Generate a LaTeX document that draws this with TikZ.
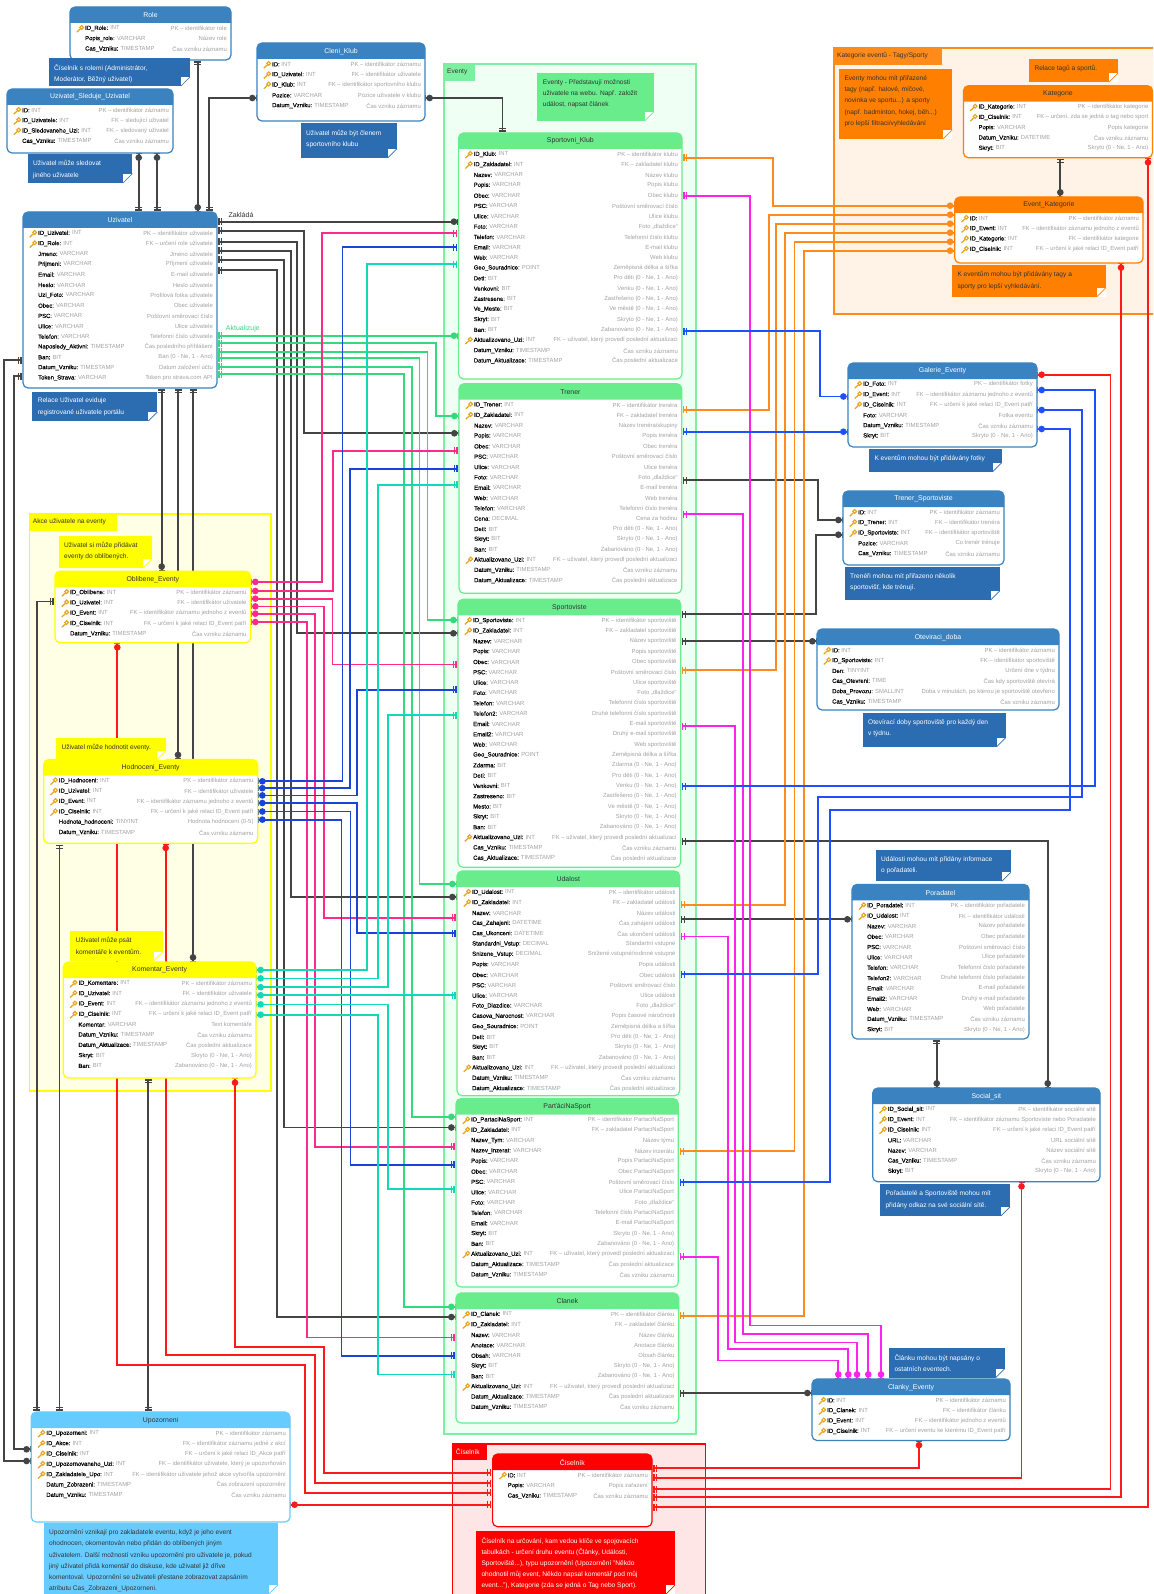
\documentclass[tikz,border=0pt]{standalone}
\usepackage{fontspec}
\usetikzlibrary{arrows.meta}
\setmainfont{Liberation Sans}
\newfontfamily\nmf{Liberation Sans}[FakeBold=0.4]
\definecolor{hB}{HTML}{3A82C0}
\definecolor{nB}{HTML}{2C6CB0}
\definecolor{hG}{HTML}{68EC8C}
\definecolor{gG}{HTML}{7CF0A0}
\definecolor{fG}{HTML}{F0FFF4}
\definecolor{hY}{HTML}{FFFF00}
\definecolor{fY}{HTML}{FFFFE6}
\definecolor{hO}{HTML}{FF8000}
\definecolor{gO}{HTML}{FF8C1A}
\definecolor{fO}{HTML}{FFF2E6}
\definecolor{hL}{HTML}{66CCFF}
\definecolor{hR}{HTML}{FF0000}
\definecolor{fR}{HTML}{FFE6E6}
\definecolor{tD}{HTML}{333333}
\definecolor{gy}{HTML}{A2A2A2}
\definecolor{kY}{HTML}{E8A317}
\definecolor{cD}{HTML}{444444}
\definecolor{cP}{HTML}{FF2A8A}
\definecolor{cB}{HTML}{1A44D8}
\definecolor{cC}{HTML}{10D8B8}
\definecolor{cG}{HTML}{33D97A}
\definecolor{cO}{HTML}{FF8A1E}
\definecolor{cM}{HTML}{FF22EE}
\definecolor{cU}{HTML}{1F50FF}
\definecolor{cR}{HTML}{FF1A1A}
\tikzset{
 oneT/.tip={Bar[width=7pt,line width=1.2pt,sep=1.6pt]Bar[width=7pt,line width=1.2pt,sep=1.4pt]},
 manyT/.tip={Circle[length=6.5pt,width=6.5pt,sep=0.2pt]Bar[width=6pt,line width=1.2pt,sep=0pt]},
 cn/.style={arrows={oneT-manyT},line width=1.8pt,line join=miter},
 oo/.style={arrows={oneT-oneT},line width=1.8pt,line join=miter},
 tbl/.style={rectangle,fill=white,rounded corners=5pt,line width=1.2pt,inner sep=0pt,outer sep=0pt},
 ttl/.style={font=\fontsize{6.9}{8}\selectfont,inner sep=0pt},
 rn/.style={font=\fontsize{5.9}{7}\selectfont,inner sep=0pt,anchor=west},
 rc/.style={font=\fontsize{5.9}{7}\selectfont,inner sep=0pt,anchor=east,text=gy},
 nbox/.style={rectangle,inner sep=0pt,outer sep=0pt,anchor=north west},
 ntxt/.style={font=\fontsize{6.6}{11.2}\selectfont,inner sep=0pt,align=left,anchor=north west},
 grp/.style={rectangle,inner sep=0pt,outer sep=0pt,anchor=north west,line width=1.5pt},
 glab/.style={font=\fontsize{6.6}{8}\selectfont,inner sep=0pt,anchor=west},
 lab/.style={font=\fontsize{7}{8}\selectfont,inner sep=0pt,anchor=west},
}
\newcount\rowcnt
\newcommand\Tbl[8]{%
 \pgfmathsetmacro\tbW{#6-#4}\pgfmathsetmacro\tbH{#7-#5}%
 \node[tbl,draw=#2,minimum width=\tbW pt,minimum height=\tbH pt,anchor=north west] (#1) at (#4,#5) {};
 \fill[#2] (#4,{#5+16}) [rounded corners=5pt] -- (#4,#5) -- (#6,#5) [sharp corners] -- (#6,{#5+16}) -- cycle;
 \node[ttl,text=#3] (#1t) at ({(#4+#6)/2},{#5+8.2}) {#8};
 \def\tbId{#1}\rowcnt=0
 \pgfmathsetmacro\tbN{#4+15}\pgfmathsetmacro\tbR{#6-4}\pgfmathsetmacro\tbY{#5+21.3}%
}
\newcommand\RF[3]{%
 \advance\rowcnt by 1
 \node[rn] (\tbId n\the\rowcnt) at (\tbN,\tbY) {{\nmf #1:} \textcolor{gy}{#2}};
 \node[rc] (\tbId c\the\rowcnt) at (\tbR,\tbY) {#3};
 \pgfmathsetmacro\tbY{\tbY+10.33}%
}
\newcommand\RK[3]{%
 \draw[kY,line width=1.1pt] ({\tbN-3.3},{\tbY-0.9}) circle (1.9pt);
 \draw[kY,line width=1.2pt] ({\tbN-4.6},{\tbY+0.5}) -- ({\tbN-8.2},{\tbY+3.8});
 \RF{#1}{#2}{#3}%
}
\newcommand\Nt[8]{%
 \pgfmathsetmacro\tbW{#6-#4}\pgfmathsetmacro\tbH{#7-#5}%
 \node[nbox,fill=#2,minimum width=\tbW pt,minimum height=\tbH pt] (#1) at (#4,#5) {};
 \fill[white] ({#6-9},{#7-9}) rectangle (#6,#7);
 \draw[#2,line width=.7pt] ({#6-9},#7) -- (#6,{#7-9});
 \node[ntxt,text=#3] (#1x) at ({#4+5.3},{#5+6.4}) {#8};
}
\newcommand\Gr[9]{%
 \pgfmathsetmacro\tbW{#6-#4}\pgfmathsetmacro\tbH{#7-#5}%
 \node[grp,draw=#2,fill=#3,minimum width=\tbW pt,minimum height=\tbH pt] (#1) at (#4,#5) {};
 \fill[#2] (#4,#5) rectangle #8;
 \node[glab,text=#9] (#1l) at ({#4+3},{#5+8}) 
}
\newcommand\Anc[5]{\pgfmathsetmacro\tbW{#4-#2}\pgfmathsetmacro\tbH{#5-#3}%
 \node[rectangle,inner sep=0pt,outer sep=0pt,minimum width=\tbW pt,minimum height=\tbH pt,anchor=north west] (#1) at (#2,#3) {};}
\catcode`\_=12
\begin{document}
\begin{tikzpicture}[x=1pt,y=-1pt]
\useasboundingbox (0,0) rectangle (1153,1594);
\clip (0,0) rectangle (1153,1594);
\fill[white] (0,0) rectangle (1153,1594);
% groups
\Gr{gE}{gG}{fG}{444}{64}{695.8}{1434}{(475,80.7)}{tD} {Eventy};
\Gr{gA}{hY}{fY}{29.7}{514}{271}{1091}{(116.7,530.6)}{tD} {Akce uživatele na eventy};
\Gr{gK}{gO}{fO}{834}{48}{1165}{314}{(942,65)}{tD} {Kategorie eventů - Tagy/Sporty};
\Gr{gC}{hR}{fR}{452.7}{1444}{705.7}{1610}{(486.7,1460)}{white} {Číselník};
% connector ports
\Anc{ro}{70}{7}{231}{60}
\Anc{ck}{257}{43}{425}{121}
\Anc{su}{7}{89}{173}{153}
\Anc{uz}{23}{212}{217}{388}
\Anc{sk}{458.6}{133}{682}{379}
\Anc{tr}{459}{383.7}{681.7}{593.3}
\Anc{sp}{458}{599.3}{680.7}{867.3}
\Anc{ud}{457}{871}{679.7}{1095.7}
\Anc{pa}{456}{1098.6}{678.3}{1287}
\Anc{cl}{456}{1293}{678.7}{1423}
\Anc{ob}{55}{571.2}{250.7}{642.7}
\Anc{ho}{43.7}{759.5}{257.7}{843.3}
\Anc{ko}{63.3}{962}{256}{1078}
\Anc{up}{31.2}{1412}{290}{1522}
\Anc{ci}{492.6}{1454}{652}{1526.7}
\Anc{ka}{963.4}{85.7}{1152.5}{157.7}
\Anc{ek}{954.7}{197}{1143}{263}
\Anc{ga}{848}{363}{1037}{447}
\Anc{ts}{843}{491}{1004}{565}
\Anc{ot}{817}{629}{1059}{710}
\Anc{po}{852}{884.4}{1029}{1039}
\Anc{so}{872.7}{1088}{1100}{1181.7}
\Anc{ce}{812}{1379}{1010}{1440.5}
% connectors: dark
\begin{scope}[cD]
\draw[cn] (ro.south-|197.7,0) -- (uz.north-|197.7,0);
\draw[cn] (uz.north-|209,0) |- (ck.west|-0,98);
\draw[cn] (sk.north-|502.4,0) |- (ck.east|-0,98);
\draw[cn] (uz.north-|138.7,0) -- (su.south-|138.7,0);
\draw[cn] (uz.north-|157,0) -- (su.south-|157,0);
\draw[cn] (uz.south-|161.7,0) -- (ob.north-|161.7,0);
\draw[cn] (uz.south-|178,0) -- (ho.north-|178,0);
\draw[cn] (uz.south-|193,0) -- (ko.north-|193,0);
\draw[cn] (uz.east|-0,221.7) -- (sk.west|-0,221.7);
\draw[cn] (uz.east|-0,230.7) -| (304,433.3) -- (tr.west|-0,433.3);
\draw[cn] (uz.east|-0,241.7) -| (297.3,633.3) -- (sp.west|-0,633.3);
\draw[cn] (uz.east|-0,251) -| (290.7,897) -- (ud.west|-0,897);
\draw[cn] (uz.east|-0,259.7) -| (284,1127.5) -- (pa.west|-0,1127.5);
\draw[cn] (uz.east|-0,270.3) -| (277.3,1317) -- (cl.west|-0,1317);
\draw[cn] (uz.west|-0,360.3) -| (4,1461) -- (up.west|-0,1461);
\draw[cn] (uz.west|-0,376) -| (14.3,1449.3) -- (up.west|-0,1449.3);
\draw[oo] (ob.west|-0,601.4) -| (up.north-|36.7,0);
\draw[oo] (ho.south-|59.5,0) -- (up.north-|59.5,0);
\draw[oo] (ko.south-|148,0) -- (up.north-|148,0);
\draw[cn] (tr.east|-0,480) -| (817.7,520) -- (ts.west|-0,520);
\draw[cn] (sp.east|-0,614.3) -| (815.7,534.7) -- (ts.west|-0,534.7);
\draw[cn] (sp.east|-0,641.3) -- (ot.west|-0,641.3);
\draw[cn] (sp.east|-0,841.3) -| (so.north-|1047.7,0);
\draw[cn] (ud.east|-0,919.3) -- (po.west|-0,919.3);
\draw[cn] (po.south-|936.7,0) -- (so.north-|936.7,0);
\draw[cn] (cl.east|-0,1393) -- (ce.west|-0,1393);
\draw[cn] (ka.south-|1060.3,0) -- (ek.north-|1060.3,0);
\end{scope}
% green
\begin{scope}[cG]
\draw[cn] (uz.east|-0,335.7) -- (sk.west|-0,335.7);
\draw[cn] (uz.east|-0,343.3) -| (436,416) -- (tr.west|-0,416);
\draw[cn] (uz.east|-0,351.7) -| (427.5,620) -- (sp.west|-0,620);
\draw[cn] (uz.east|-0,358.3) -| (419.5,884) -- (ud.west|-0,884);
\draw[cn] (uz.east|-0,366.7) -| (412,1116.8) -- (pa.west|-0,1116.8);
\draw[cn] (uz.east|-0,374.3) -| (404.3,1306.8) -- (cl.west|-0,1306.8);
\end{scope}
% pink
\begin{scope}[cP]
\draw[cn] (sk.west|-0,233.3) -| (322.3,581.9) -- (ob.east|-0,581.9);
\draw[cn] (tr.west|-0,450.7) -| (333.3,591) -- (ob.east|-0,591);
\draw[cn] (sp.west|-0,664.5) -| (332.5,598.7) -- (ob.east|-0,598.7);
\draw[cn] (ud.west|-0,917.9) -| (324,606.4) -- (ob.east|-0,606.4);
\draw[cn] (pa.west|-0,1146.8) -| (315,613.7) -- (ob.east|-0,613.7);
\draw[cn] (cl.west|-0,1337.5) -| (307.3,622) -- (ob.east|-0,622);
\end{scope}
% blue
\begin{scope}[cB]
\draw[cn] (sk.west|-0,247.3) -| (342.5,781.3) -- (ho.east|-0,781.3);
\draw[cn] (tr.west|-0,468.7) -| (350,788.2) -- (ho.east|-0,788.2);
\draw[cn] (sp.west|-0,689.6) -| (357.3,795.4) -- (ho.east|-0,795.4);
\draw[cn] (ud.west|-0,933) -| (357.3,803) -- (ho.east|-0,803);
\draw[cn] (pa.west|-0,1164.6) -| (350.5,811.5) -- (ho.east|-0,811.5);
\draw[cn] (cl.west|-0,1355.7) -| (341.5,819.6) -- (ho.east|-0,819.6);
\end{scope}
% cyan
\begin{scope}[cC]
\draw[cn] (sk.west|-0,264.3) -| (367,970) -- (ko.east|-0,970);
\draw[cn] (tr.west|-0,484.7) -| (377.7,978.4) -- (ko.east|-0,978.4);
\draw[cn] (sp.west|-0,715) -| (388.3,987.2) -- (ko.east|-0,987.2);
\draw[cn] (ud.west|-0,995.2) -- (ko.east|-0,995.2);
\draw[cn] (pa.west|-0,1189.3) -| (388.3,1004.4) -- (ko.east|-0,1004.4);
\draw[cn] (cl.west|-0,1374.4) -| (378.2,1014.7) -- (ko.east|-0,1014.7);
\end{scope}
% orange
\begin{scope}[cO]
\draw[cn] (sk.east|-0,158) -| (772.6,205.7) -- (ek.west|-0,205.7);
\draw[cn] (tr.east|-0,409.7) -| (769.3,214.7) -- (ek.west|-0,214.7);
\draw[cn] (sp.east|-0,670.3) -| (776,223.7) -- (ek.west|-0,223.7);
\draw[cn] (ud.east|-0,904.6) -| (785,232.7) -- (ek.west|-0,232.7);
\draw[cn] (pa.east|-0,1151) -| (794.5,241.7) -- (ek.west|-0,241.7);
\draw[cn] (cl.east|-0,1315.7) -| (804.3,250.7) -- (ek.west|-0,250.7);
\end{scope}
% magenta
\begin{scope}[cM]
\draw[cn] (sk.east|-0,196) -| (750,1325.4) -| (ce.north-|881,0);
\draw[cn] (tr.east|-0,514.3) -| (742.7,1333.6) -| (ce.north-|868.3,0);
\draw[cn] (sp.east|-0,726.3) -| (735,1342.5) -| (ce.north-|857,0);
\draw[cn] (ud.east|-0,936.4) -| (727.7,1348.8) -| (ce.north-|848.3,0);
\draw[cn] (pa.east|-0,1256.8) -| (718.3,1360.4) -| (ce.north-|838.3,0);
\end{scope}
% bright blue
\begin{scope}[cU]
\draw[cn] (sk.east|-0,331.3) -| (820,396.5) -- (ga.west|-0,396.5);
\draw[cn] (tr.east|-0,431.7) -- (ga.west|-0,431.7);
\draw[cn] (sp.east|-0,786) -| (1095,390) -- (ga.east|-0,390);
\draw[cn] (ud.east|-0,974) -| (817.7,797) -| (1082,410) -- (ga.east|-0,410);
\draw[cn] (pa.east|-0,1182) -| (830.3,810) -| (1070,429) -- (ga.east|-0,429);
\end{scope}
% red
\begin{scope}[cR]
\draw[cn] (ci.east|-0,1468.3) -| (ce.south-|919,0);
\draw[cn] (ci.east|-0,1477.7) -| (so.south-|1021.5,0);
\draw[cn] (ci.east|-0,1489) -| (1110.5,374.7) -- (ga.east|-0,374.7);
\draw[cn] (ci.east|-0,1497) -| (ek.south-|1121,0);
\draw[cn] (ci.east|-0,1507) -| (ka.south-|1148,0);
\draw[cn] (ci.west|-0,1472.7) -| (324.3,1347.3) -| (ko.south-|235,0);
\draw[cn] (ci.west|-0,1483) -| (315,1354.7) -| (ho.south-|165.7,0);
\draw[cn] (ci.west|-0,1492.7) -| (305,1364.7) -| (ob.south-|117.3,0);
\draw[cn] (ci.west|-0,1504.7) -- (up.east|-0,1504.7);
\end{scope}
\node[lab,text=tD] (lZak) at (228.3,215) {Zakládá};
\node[lab,text=cG] (lAkt) at (225.7,328.7) {Aktualizuje};
% tables
\Tbl{tro}{hB}{white}{70}{7}{231}{60}{Role}
\RK{ID_Role}{INT}{PK – identifikátor role}
\RF{Popis_role}{VARCHAR}{Název role}
\RF{Cas_Vzniku}{TIMESTAMP}{Čas vzniku záznamu}
\Tbl{tck}{hB}{white}{257}{43}{425}{121}{Cleni_Klub}
\RK{ID}{INT}{PK – identifikátor záznamu}
\RK{ID_Uzivatel}{INT}{FK – identifikátor uživatele}
\RK{ID_Klub}{INT}{FK – identifikátor sportovního klubu}
\RF{Pozice}{VARCHAR}{Pozice uživatele v klubu}
\RF{Datum_Vzniku}{TIMESTAMP}{Čas vzniku záznamu}
\Tbl{tsu}{hB}{white}{7}{89}{173}{153}{Uzivatel_Sleduje_Uzivatel}
\RK{ID}{INT}{PK – identifikátor záznamu}
\RK{ID_Uzivatele}{INT}{FK – sledující uživatel}
\RK{ID_Sledovaneho_Uzi}{INT}{FK – sledovaný uživatel}
\RF{Cas_Vzniku}{TIMESTAMP}{Čas vzniku záznamu}
\Tbl{tuz}{hB}{white}{23}{212}{217}{388}{Uzivatel}
\RK{ID_Uzivatel}{INT}{PK – identifikátor uživatele}
\RK{ID_Role}{INT}{FK – určení role uživatele}
\RF{Jmeno}{VARCHAR}{Jméno uživatele}
\RF{Prijmeni}{VARCHAR}{Příjmení uživatele}
\RF{Email}{VARCHAR}{E-mail uživatele}
\RF{Heslo}{VARCHAR}{Heslo uživatele}
\RF{Uzi_Foto}{VARCHAR}{Profilová fotka uživatele}
\RF{Obec}{VARCHAR}{Obec uživatele}
\RF{PSC}{VARCHAR}{Poštovní směrovací číslo}
\RF{Ulice}{VARCHAR}{Ulice uživatele}
\RF{Telefon}{VARCHAR}{Telefonní číslo uživatele}
\RF{Naposledy_Aktivni}{TIMESTAMP}{Čas posledního přihlášení}
\RF{Ban}{BIT}{Ban (0 - Ne, 1 - Ano)}
\RF{Datum_Vzniku}{TIMESTAMP}{Datum založení účtu}
\RF{Token_Strava}{VARCHAR}{Token pro strava.com API}
\Tbl{tsk}{hG}{tD}{458.6}{133}{682}{379}{Sportovni_Klub}
\RK{ID_Klub}{INT}{PK – identifikátor klubu}
\RK{ID_Zakladatel}{INT}{FK – zakladatel klubu}
\RF{Nazev}{VARCHAR}{Název klubu}
\RF{Popis}{VARCHAR}{Popis klubu}
\RF{Obec}{VARCHAR}{Obec klubu}
\RF{PSC}{VARCHAR}{Poštovní směrovací číslo}
\RF{Ulice}{VARCHAR}{Ulice klubu}
\RF{Foto}{VARCHAR}{Foto „dlaždice“}
\RF{Telefon}{VARCHAR}{Telefonní číslo klubu}
\RF{Email}{VARCHAR}{E-mail klubu}
\RF{Web}{VARCHAR}{Web klubu}
\RF{Geo_Souradnice}{POINT}{Zeměpisná délka a šířka}
\RF{Deti}{BIT}{Pro děti (0 - Ne, 1 - Ano)}
\RF{Venkovni}{BIT}{Venku (0 - Ne, 1 - Ano)}
\RF{Zastresene}{BIT}{Zastřešeno (0 - Ne, 1 - Ano)}
\RF{Ve_Meste}{BIT}{Ve městě (0 - Ne, 1 - Ano)}
\RF{Skryt}{BIT}{Skryto (0 - Ne, 1 - Ano)}
\RF{Ban}{BIT}{Zabanováno (0 - Ne, 1 - Ano)}
\RK{Aktualizovano_Uzi}{INT}{FK – uživatel, který provedl poslední aktualizaci}
\RF{Datum_Vzniku}{TIMESTAMP}{Čas vzniku záznamu}
\RF{Datum_Aktualizace}{TIMESTAMP}{Čas poslední aktualizace}
\Tbl{ttr}{hG}{tD}{459}{383.7}{681.7}{593.3}{Trener}
\RK{ID_Trener}{INT}{PK – identifikátor trenéra}
\RK{ID_Zakladatel}{INT}{FK – zakladatel trenéra}
\RF{Nazev}{VARCHAR}{Název trenéra/skupiny}
\RF{Popis}{VARCHAR}{Popis trenéra}
\RF{Obec}{VARCHAR}{Obec trenéra}
\RF{PSC}{VARCHAR}{Poštovní směrovací číslo}
\RF{Ulice}{VARCHAR}{Ulice trenéra}
\RF{Foto}{VARCHAR}{Foto „dlaždice“}
\RF{Email}{VARCHAR}{E-mail trenéra}
\RF{Web}{VARCHAR}{Web trenéra}
\RF{Telefon}{VARCHAR}{Telefonní číslo trenéra}
\RF{Cena}{DECIMAL}{Cena za hodinu}
\RF{Deti}{BIT}{Pro děti (0 - Ne, 1 - Ano)}
\RF{Skryt}{BIT}{Skryto (0 - Ne, 1 - Ano)}
\RF{Ban}{BIT}{Zabanováno (0 - Ne, 1 - Ano)}
\RK{Aktualizovano_Uzi}{INT}{FK – uživatel, který provedl poslední aktualizaci}
\RF{Datum_Vzniku}{TIMESTAMP}{Čas vzniku záznamu}
\RF{Datum_Aktualizace}{TIMESTAMP}{Čas poslední aktualizace}
\Tbl{tsp}{hG}{tD}{458}{599.3}{680.7}{867.3}{Sportoviste}
\RK{ID_Sportoviste}{INT}{PK – identifikátor sportoviště}
\RK{ID_Zakladatel}{INT}{FK – zakladatel sportoviště}
\RF{Nazev}{VARCHAR}{Název sportoviště}
\RF{Popis}{VARCHAR}{Popis sportoviště}
\RF{Obec}{VARCHAR}{Obec sportoviště}
\RF{PSC}{VARCHAR}{Poštovní směrovací číslo}
\RF{Ulice}{VARCHAR}{Ulice sportoviště}
\RF{Foto}{VARCHAR}{Foto „dlaždice“}
\RF{Telefon}{VARCHAR}{Telefonní číslo sportoviště}
\RF{Telefon2}{VARCHAR}{Druhé telefonní číslo sportoviště}
\RF{Email}{VARCHAR}{E-mail sportoviště}
\RF{Email2}{VARCHAR}{Druhý e-mail sportoviště}
\RF{Web}{VARCHAR}{Web sportoviště}
\RF{Geo_Souradnice}{POINT}{Zeměpisná délka a šířka}
\RF{Zdarma}{BIT}{Zdarma (0 - Ne, 1 - Ano)}
\RF{Deti}{BIT}{Pro děti (0 - Ne, 1 - Ano)}
\RF{Venkovni}{BIT}{Venku (0 - Ne, 1 - Ano)}
\RF{Zastreseno}{BIT}{Zastřešeno (0 - Ne, 1 - Ano)}
\RF{Mesto}{BIT}{Ve městě (0 - Ne, 1 - Ano)}
\RF{Skryt}{BIT}{Skryto (0 - Ne, 1 - Ano)}
\RF{Ban}{BIT}{Zabanováno (0 - Ne, 1 - Ano)}
\RK{Aktualizovano_Uzi}{INT}{FK – uživatel, který provedl poslední aktualizaci}
\RF{Cas_Vzniku}{TIMESTAMP}{Čas vzniku záznamu}
\RF{Cas_Aktualizace}{TIMESTAMP}{Čas poslední aktualizace}
\Tbl{tud}{hG}{tD}{457}{871}{679.7}{1095.7}{Udalost}
\RK{ID_Udalost}{INT}{PK – identifikátor události}
\RK{ID_Zakladatel}{INT}{FK – zakladatel události}
\RF{Nazev}{VARCHAR}{Název události}
\RF{Cas_Zahajeni}{DATETIME}{Čas zahájení události}
\RF{Cas_Ukonceni}{DATETIME}{Čas ukončení události}
\RF{Standardni_Vstup}{DECIMAL}{Standartní vstupné}
\RF{Snizene_Vstup}{DECIMAL}{Snížené vstupné/rodinné vstupné}
\RF{Popis}{VARCHAR}{Popis události}
\RF{Obec}{VARCHAR}{Obec události}
\RF{PSC}{VARCHAR}{Poštovní směrovací číslo}
\RF{Ulice}{VARCHAR}{Ulice události}
\RF{Foto_Dlazdice}{VARCHAR}{Foto „dlaždice“}
\RF{Casova_Narocnost}{VARCHAR}{Popis časové náročnosti}
\RF{Geo_Souradnice}{POINT}{Zeměpisná délka a šířka}
\RF{Deti}{BIT}{Pro děti (0 - Ne, 1 - Ano)}
\RF{Skryt}{BIT}{Skryto (0 - Ne, 1 - Ano)}
\RF{Ban}{BIT}{Zabanováno (0 - Ne, 1 - Ano)}
\RK{Aktualizovano_Uzi}{INT}{FK – uživatel, který provedl poslední aktualizaci}
\RF{Datum_Vzniku}{TIMESTAMP}{Čas vzniku záznamu}
\RF{Datum_Aktualizace}{TIMESTAMP}{Čas poslední aktualizace}
\Tbl{tpa}{hG}{tD}{456}{1098.6}{678.3}{1287}{ParťáciNaSport}
\RK{ID_PartaciNaSport}{INT}{PK – identifikátor PartaciNaSport}
\RK{ID_Zakladatel}{INT}{FK – zakladatel PartaciNaSport}
\RF{Nazev_Tym}{VARCHAR}{Název týmu}
\RF{Nazev_Inzerat}{VARCHAR}{Název inzerátu}
\RF{Popis}{VARCHAR}{Popis PartaciNaSport}
\RF{Obec}{VARCHAR}{Obec PartaciNaSport}
\RF{PSC}{VARCHAR}{Poštovní směrovací číslo}
\RF{Ulice}{VARCHAR}{Ulice PartaciNaSport}
\RF{Foto}{VARCHAR}{Foto „dlaždice“}
\RF{Telefon}{VARCHAR}{Telefonní číslo PartaciNaSport}
\RF{Email}{VARCHAR}{E-mail PartaciNaSport}
\RF{Skryt}{BIT}{Skryto (0 - Ne, 1 - Ano)}
\RF{Ban}{BIT}{Zabanováno (0 - Ne, 1 - Ano)}
\RK{Aktualizovano_Uzi}{INT}{FK – uživatel, který provedl poslední aktualizaci}
\RF{Datum_Aktualizace}{TIMESTAMP}{Čas poslední aktualizace}
\RF{Datum_Vzniku}{TIMESTAMP}{Čas vzniku záznamu}
\Tbl{tcl}{hG}{tD}{456}{1293}{678.7}{1423}{Clanek}
\RK{ID_Clanek}{INT}{PK – identifikátor článku}
\RK{ID_Zakladatel}{INT}{FK – zakladatel článku}
\RF{Nazev}{VARCHAR}{Název článku}
\RF{Anotace}{VARCHAR}{Anotace článku}
\RF{Obsah}{VARCHAR}{Obsah článku}
\RF{Skryt}{BIT}{Skryto (0 - Ne, 1 - Ano)}
\RF{Ban}{BIT}{Zabanováno (0 - Ne, 1 - Ano)}
\RK{Aktualizovano_Uzi}{INT}{FK – uživatel, který provedl poslední aktualizaci}
\RF{Datum_Aktualizace}{TIMESTAMP}{Čas poslední aktualizace}
\RF{Datum_Vzniku}{TIMESTAMP}{Čas vzniku záznamu}
\Tbl{tob}{hY}{tD}{55}{571.2}{250.7}{642.7}{Oblibene_Eventy}
\RK{ID_Oblibene}{INT}{PK – identifikátor záznamu}
\RK{ID_Uzivatel}{INT}{FK – identifikátor uživatele}
\RK{ID_Event}{INT}{FK – identifikátor záznamu jednoho z eventů}
\RK{ID_Ciselnik}{INT}{FK – určení k jaké relaci ID_Event patří}
\RF{Datum_Vzniku}{TIMESTAMP}{Čas vzniku záznamu}
\Tbl{tho}{hY}{tD}{43.7}{759.5}{257.7}{843.3}{Hodnoceni_Eventy}
\RK{ID_Hodnoceni}{INT}{PK – identifikátor záznamu}
\RK{ID_Uzivatel}{INT}{FK – identifikátor uživatele}
\RK{ID_Event}{INT}{FK – identifikátor záznamu jednoho z eventů}
\RK{ID_Ciselnik}{INT}{FK – určení k jaké relaci ID_Event patří}
\RF{Hodnota_hodnoceni}{TINYINT}{Hodnota hodnocení (0-5)}
\RF{Datum_Vzniku}{TIMESTAMP}{Čas vzniku záznamu}
\Tbl{tko}{hY}{tD}{63.3}{962}{256}{1078}{Komentar_Eventy}
\RK{ID_Komentare}{INT}{PK – identifikátor záznamu}
\RK{ID_Uzivatel}{INT}{FK – identifikátor uživatele}
\RK{ID_Event}{INT}{FK – identifikátor záznamu jednoho z eventů}
\RK{ID_Ciselnik}{INT}{FK – určení k jaké relaci ID_Event patří}
\RF{Komentar}{VARCHAR}{Text komentáře}
\RF{Datum_Vzniku}{TIMESTAMP}{Čas vzniku záznamu}
\RF{Datum_Aktualizace}{TIMESTAMP}{Čas poslední aktualizace}
\RF{Skryt}{BIT}{Skryto (0 - Ne, 1 - Ano)}
\RF{Ban}{BIT}{Zabanováno (0 - Ne, 1 - Ano)}
\Tbl{tup}{hL}{tD}{31.2}{1412}{290}{1522}{Upozorneni}
\RK{ID_Upozorneni}{INT}{PK – identifikátor záznamu}
\RK{ID_Akce}{INT}{FK – identifikátor záznamu jedné z akcí}
\RK{ID_Ciselnik}{INT}{FK – určení k jaké relaci ID_Akce patří}
\RK{ID_Upozornovaneho_Uzi}{INT}{FK – identifikátor uživatele, který je upozorňován}
\RK{ID_Zakladatele_Upo}{INT}{FK – identifikátor uživatele jehož akce vytvořila upozornění}
\RF{Datum_Zobrazeni}{TIMESTAMP}{Čas zobrazení upozornění}
\RF{Datum_Vzniku}{TIMESTAMP}{Čas vzniku záznamu}
\Tbl{tci}{hR}{white}{492.6}{1454}{652}{1526.7}{Číselník}
\RK{ID}{INT}{PK – identifikátor záznamu}
\RF{Popis}{VARCHAR}{Popis zařazení}
\RF{Cas_Vzniku}{TIMESTAMP}{Čas vzniku záznamu}
\Tbl{tka}{hO}{tD}{963.4}{85.7}{1152.5}{157.7}{Kategorie}
\RK{ID_Kategorie}{INT}{PK – identifikátor kategorie}
\RK{ID_Ciselnik}{INT}{FK – určení, zda se jedná o tag nebo sport}
\RF{Popis}{VARCHAR}{Popis kategorie}
\RF{Datum_Vzniku}{DATETIME}{Čas vzniku záznamu}
\RF{Skryt}{BIT}{Skryto (0 - Ne, 1 - Ano)}
\Tbl{tek}{hO}{tD}{954.7}{197}{1143}{263}{Event_Kategorie}
\RK{ID}{INT}{PK – identifikátor záznamu}
\RK{ID_Event}{INT}{FK – identifikátor záznamu jednoho z eventů}
\RK{ID_Kategorie}{INT}{FK – identifikátor kategorie}
\RK{ID_Ciselnik}{INT}{FK – určení k jaké relaci ID_Event patří}
\Tbl{tga}{hB}{white}{848}{363}{1037}{447}{Galerie_Eventy}
\RK{ID_Foto}{INT}{PK – identifikátor fotky}
\RK{ID_Event}{INT}{FK – identifikátor záznamu jednoho z eventů}
\RK{ID_Ciselnik}{INT}{FK – určení k jaké relaci ID_Event patří}
\RF{Foto}{VARCHAR}{Fotka eventu}
\RF{Datum_Vzniku}{TIMESTAMP}{Čas vzniku záznamu}
\RF{Skryt}{BIT}{Skryto (0 - Ne, 1 - Ano)}
\Tbl{tts}{hB}{white}{843}{491}{1004}{565}{Trener_Sportoviste}
\RK{ID}{INT}{PK – identifikátor záznamu}
\RK{ID_Trener}{INT}{FK – identifikátor trenéra}
\RK{ID_Sportoviste}{INT}{FK – identifikátor sportoviště}
\RF{Pozice}{VARCHAR}{Co trenér trénuje}
\RF{Cas_Vzniku}{TIMESTAMP}{Čas vzniku záznamu}
\Tbl{tot}{hB}{white}{817}{629}{1059}{710}{Oteviraci_doba}
\RK{ID}{INT}{PK – identifikátor záznamu}
\RK{ID_Sportoviste}{INT}{FK – identifikátor sportoviště}
\RF{Den}{TINYINT}{Určení dne v týdnu}
\RF{Cas_Otevreni}{TIME}{Čas kdy sportoviště otevírá}
\RF{Doba_Provozu}{SMALLINT}{Doba v minutách, po kterou je sportoviště otevřeno}
\RF{Cas_Vzniku}{TIMESTAMP}{Čas vzniku záznamu}
\Tbl{tpo}{hB}{white}{852}{884.4}{1029}{1039}{Poradatel}
\RK{ID_Poradatel}{INT}{PK – identifikátor pořadatele}
\RK{ID_Udalost}{INT}{FK – identifikátor události}
\RF{Nazev}{VARCHAR}{Název pořadatele}
\RF{Obec}{VARCHAR}{Obec pořadatele}
\RF{PSC}{VARCHAR}{Poštovní směrovací číslo}
\RF{Ulice}{VARCHAR}{Ulice pořadatele}
\RF{Telefon}{VARCHAR}{Telefonní číslo pořadatele}
\RF{Telefon2}{VARCHAR}{Druhé telefonní číslo pořadatele}
\RF{Email}{VARCHAR}{E-mail pořadatele}
\RF{Email2}{VARCHAR}{Druhý e-mail pořadatele}
\RF{Web}{VARCHAR}{Web pořadatele}
\RF{Datum_Vzniku}{TIMESTAMP}{Čas vzniku záznamu}
\RF{Skryt}{BIT}{Skryto (0 - Ne, 1 - Ano)}
\Tbl{tso}{hB}{white}{872.7}{1088}{1100}{1181.7}{Social_sit}
\RK{ID_Social_sit}{INT}{PK – identifikátor sociální sítě}
\RK{ID_Event}{INT}{FK – identifikátor záznamu Sportoviste nebo Poradatele}
\RK{ID_Ciselnik}{INT}{FK – určení k jaké relaci ID_Event patří}
\RF{URL}{VARCHAR}{URL sociální sítě}
\RF{Nazev}{VARCHAR}{Název sociální sítě}
\RF{Cas_Vzniku}{TIMESTAMP}{Čas vzniku záznamu}
\RF{Skryt}{BIT}{Skryto (0 - Ne, 1 - Ano)}
\Tbl{tce}{hB}{white}{812}{1379}{1010}{1440.5}{Clanky_Eventy}
\RK{ID}{INT}{PK – identifikátor záznamu}
\RK{ID_Clanek}{INT}{FK – identifikátor článku}
\RK{ID_Event}{INT}{FK – identifikátor jednoho z eventů}
\RK{ID_Ciselnik}{INT}{FK – určení eventu ke kterému ID_Event patří}
% notes
\Nt{n01}{nB}{white}{48.7}{58}{190}{86}{Číselník s rolemi (Administrátor,\\Moderátor, Běžný uživatel)}
\Nt{n02}{nB}{white}{27.7}{154}{132.3}{182.7}{Uživatel může sledovat\\jiného uživatele}
\Nt{n03}{nB}{white}{300.7}{123.3}{396.7}{158}{Uživatel může být členem\\sportovního klubu}
\Nt{n04}{nB}{white}{32.3}{391.5}{157.3}{421}{Relace Uživatel eviduje\\registrované uživatele portálu}
\Nt{n05}{hG}{tD}{537.4}{73}{653.6}{121}{Eventy - Představují možnosti\\uživatele na webu. Např. založit\\událost, napsat článek}
\Nt{n06}{hO}{tD}{839}{69}{952}{139}{Eventy mohou mít přiřazené\\tagy (např. halové, míčové,\\novinka ve sportu...) a sporty\\(např. badminton, hokej, běh...)\\pro lepší filtraci/vyhledávání}
\Nt{n07}{hO}{tD}{1029}{59}{1118}{82}{Relace tagů a sportů.}
\Nt{n08}{hO}{tD}{952}{265}{1106}{296.7}{K eventům mohou být přidávány tagy a\\sporty pro lepší vyhledávání.}
\Nt{n09}{nB}{white}{869}{449}{1001.7}{471.7}{K eventům mohou být přidávány fotky}
\Nt{n10}{nB}{white}{844.7}{567.3}{999.7}{600}{Trenéři mohou mít přiřazeno několik\\sportovišť, kde trénují.}
\Nt{n11}{nB}{white}{862.7}{713.3}{1005.7}{746.7}{Otevírací doby sportoviště pro každý den\\v týdnu.}
\Nt{n12}{nB}{white}{875.7}{850}{1010.7}{881.3}{Události mohou mít přidány informace\\o pořadateli.}
\Nt{n13}{nB}{white}{880}{1184.4}{1010}{1215.8}{Pořadatelé a Sportoviště mohou mít\\přidány odkaz na své sociální sítě.}
\Nt{n14}{nB}{white}{889}{1347.8}{1004.7}{1377.7}{Článku mohou být napsány o\\ostatních eventech.}
\Nt{n15}{hY}{tD}{58.7}{535.6}{152}{568}{Uživatel si může přidávat\\eventy do oblíbených.}
\Nt{n16}{hY}{tD}{56}{738}{165.7}{760}{Uživatel může hodnotit eventy.}
\Nt{n17}{hY}{tD}{70.3}{931}{162.7}{961}{Uživatel může psát\\komentáře k eventům.}
\Nt{n18}{hL}{tD}{43.6}{1523.3}{277.8}{1594}{Upozornění vznikají pro zakladatele eventu, když je jeho event\\ohodnocen, okomentován nebo přidán do oblíbených jiným\\uživatelem. Další možností vzniku upozornění pro uživatele je, pokud\\jiný uživatel přidá komentář do diskuse, kde uživatel již dříve\\komentoval. Upozornění se uživateli přestane zobrazovat zapsáním\\atributu Cas_Zobrazeni_Upozorneni.}
\Nt{n19}{hR}{white}{476}{1530.7}{675}{1594}{Číselník na určování, kam vedou klíče ve spojovacích\\tabulkách - určení druhu eventu (Články, Události,\\Sportoviště...), typu upozornění (Upozornění "Někdo\\ohodnotil můj event, Někdo napsal komentář pod můj\\event..."), Kategorie (zda se jedná o Tag nebo Sport).}
\end{tikzpicture}
\end{document}
